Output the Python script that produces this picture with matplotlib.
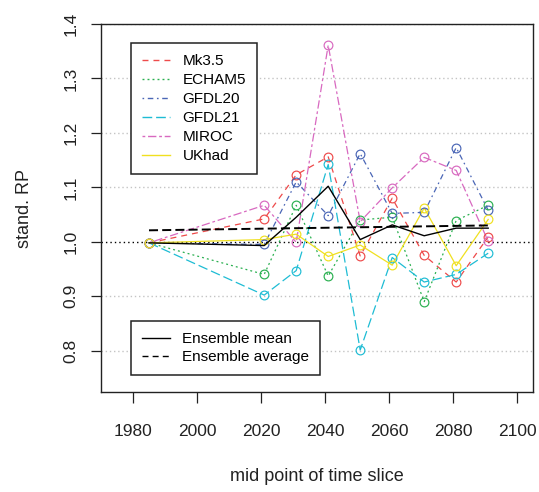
import matplotlib
matplotlib.use("Agg")
import matplotlib.pyplot as plt
from matplotlib.lines import Line2D

plt.rcParams['font.family'] = ['Liberation Sans', 'DejaVu Sans']
plt.rcParams['lines.scale_dashes'] = False

# time slice mid points
years = [1985, 2021, 2031, 2041, 2051, 2061, 2071, 2081, 2091]

# standardised return periods per model
mk35 = [0.998, 1.042, 1.123, 1.156, 0.974, 1.080, 0.975, 0.926, 1.009]
echam5 = [0.998, 0.940, 1.067, 0.937, 1.040, 1.045, 0.890, 1.039, 1.067]
gfdl20 = [0.998, 0.995, 1.110, 1.048, 1.162, 1.052, 1.054, 1.173, 1.058]
gfdl21 = [0.998, 0.902, 0.947, 1.142, 0.801, 0.971, 0.926, 0.940, 0.979]
miroc = [0.998, 1.067, 0.999, 1.361, 1.037, 1.099, 1.155, 1.131, 1.001]
ukhad = [0.998, 1.004, 1.014, 0.973, 0.994, 0.957, 1.062, 0.956, 1.041]

ens_mean = [0.998, 0.993, 1.045, 1.102, 1.004, 1.031, 1.011, 1.025, 1.025]
ens_avg_years = [1985, 2091]
ens_avg = [1.021, 1.030]

model_names = ["Mk3.5", "ECHAM5", "GFDL20", "GFDL21", "MIROC", "UKhad"]
model_values = [mk35, echam5, gfdl20, gfdl21, miroc, ukhad]
model_colors = ["#EE4A4A", "#2AB050", "#4A66B6", "#1EBCD4", "#D869C0", "#F0E020"]
model_dashes = [(0, (4.3, 3.6)),            # dashed
                (0, (1.4, 2.2)),            # dotted
                (0, (1.2, 2.6, 4.0, 2.6)),  # dotdash
                (0, (7.0, 2.8)),            # longdash
                (0, (2.0, 2.0, 6.0, 2.0)),  # twodash
                "-"]

fig = plt.figure(figsize=(5.39, 4.92), dpi=100)
ax = fig.add_axes([101 / 539, 1 - 392 / 492, 432 / 539, 368 / 492])

ax.set_xlim(1970, 2105)
ax.set_ylim(0.724, 1.4)

yticks = [0.8, 0.9, 1.0, 1.1, 1.2, 1.3, 1.4]
for yv in yticks:
    if yv != 1.0:
        ax.axhline(yv, color="#C4C4C4", lw=1.0, ls=(0, (1.0, 2.0)), zorder=1)
ax.axhline(1.0, color="black", lw=1.0, ls=(0, (1.0, 2.2)), zorder=2)

handles = []
for name, vals, col, dsh in zip(model_names, model_values, model_colors, model_dashes):
    ax.plot(years, vals, color=col, ls=dsh, lw=0.9, zorder=3)
    ax.plot(years, vals, ls="none", marker="o", ms=6.3, mfc="none",
            mec=col, mew=0.85, zorder=4)
    handles.append(Line2D([], [], color=col, ls=dsh, lw=1.0, label=name))

ax.plot(years, ens_mean, color="black", lw=1.0, zorder=5)
ax.plot(ens_avg_years, ens_avg, color="black", lw=1.4, ls=(0, (6.5, 3.0)), zorder=5)

leg1 = ax.legend(handles=handles, loc="upper left", bbox_to_anchor=(0.0694, 0.948),
                 borderaxespad=0, fontsize=11, handlelength=1.85, handletextpad=0.8,
                 borderpad=0.72, labelspacing=0.33, fancybox=False, framealpha=1,
                 edgecolor="#222222")
leg1.get_frame().set_linewidth(1.1)
ax.add_artist(leg1)

ens_handles = [Line2D([], [], color="black", lw=1.0, label="Ensemble mean"),
               Line2D([], [], color="black", lw=1.0, ls=(0, (4.3, 3.0)), label="Ensemble average")]
leg2 = ax.legend(handles=ens_handles, loc="lower left", bbox_to_anchor=(0.0694, 0.046),
                 borderaxespad=0, fontsize=11, handlelength=1.85, handletextpad=0.8,
                 borderpad=0.72, labelspacing=0.27, fancybox=False, framealpha=1,
                 edgecolor="#222222")
leg2.get_frame().set_linewidth(1.1)

ax.set_xticks([1980, 2000, 2020, 2040, 2060, 2080, 2100])
ax.set_yticks(yticks)
ax.set_yticklabels([f"{v:.1f}" for v in yticks], rotation=90, va="center")
ax.tick_params(axis="x", length=8, width=0.9, pad=15, labelsize=12.5, colors="#222222")
ax.tick_params(axis="y", length=7.5, width=0.9, pad=8.5, labelsize=12.5, colors="#222222")
for sp in ax.spines.values():
    sp.set_linewidth(1.0)
    sp.set_color("#222222")

ax.set_xlabel("mid point of time slice", fontsize=13, labelpad=21, color="#222222")
ax.set_ylabel("stand. RP", fontsize=13, labelpad=22, color="#222222")

fig.savefig("out.png", dpi=100)
